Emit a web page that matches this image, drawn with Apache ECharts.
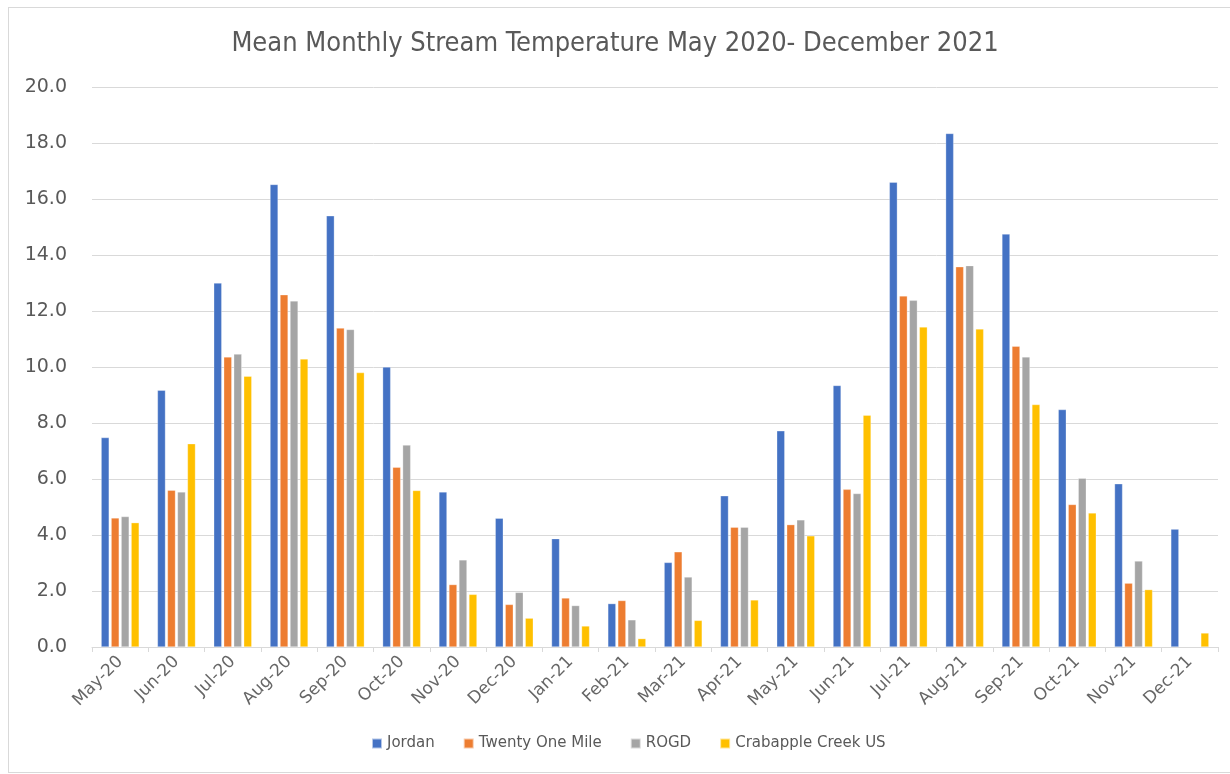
<!DOCTYPE html>
<html>
<head>
<meta charset="utf-8">
<script src="https://cdn.jsdelivr.net/npm/echarts@6/dist/echarts.min.js"></script>
<style>
  html, body { margin: 0; padding: 0; background: #ffffff; }
  #frame { position: absolute; left: 8px; top: 7px; width: 1240px; height: 764px;
           border-left: 1px solid #d9d9d9; border-top: 1px solid #d9d9d9; border-bottom: 1px solid #d9d9d9; }
  #chart { position: absolute; left: 0; top: 0; width: 1230px; height: 774px; }
</style>
</head>
<body>
<div id="frame"></div>
<div id="chart"></div>
<script>
// Monthly categories
const months = ['May-20','Jun-20','Jul-20','Aug-20','Sep-20','Oct-20','Nov-20','Dec-20','Jan-21','Feb-21',
                'Mar-21','Apr-21','May-21','Jun-21','Jul-21','Aug-21','Sep-21','Oct-21','Nov-21','Dec-21'];

// Mean monthly stream temperature (°C) per site
const jordan      = [7.48, 9.17, 13.0, 16.52, 15.40, 10.0, 5.54, 4.60, 3.87, 1.55, 3.02, 5.40, 7.72, 9.34, 16.60, 18.34, 14.75, 8.48, 5.83, 4.21];
const twentyOne   = [4.61, 5.60, 10.36, 12.58, 11.39, 6.42, 2.23, 1.52, 1.75, 1.66, 3.40, 4.28, 4.37, 5.63, 12.54, 13.58, 10.74, 5.09, 2.28, null];
const rogd        = [4.66, 5.54, 10.46, 12.36, 11.34, 7.21, 3.11, 1.95, 1.48, 0.97, 2.50, 4.28, 4.54, 5.48, 12.38, 13.62, 10.36, 6.03, 3.07, null];
const crabapple   = [4.44, 7.26, 9.67, 10.29, 9.80, 5.59, 1.88, 1.03, 0.75, 0.30, 0.95, 1.68, 3.97, 8.28, 11.43, 11.36, 8.66, 4.79, 2.05, 0.50];

const seriesNames = ['Jordan', 'Twenty One Mile', 'ROGD', 'Crabapple Creek US'];
const seriesColors = ['#4472C4', '#ED7D31', '#A5A5A5', '#FFC000'];
const seriesData = [jordan, twentyOne, rogd, crabapple];

const yTicks = { min: 0, max: 20, interval: 2 };

const chart = echarts.init(document.getElementById('chart'), null, { renderer: 'canvas' });

chart.setOption({
  backgroundColor: 'transparent',
  animation: false,
  title: {
    text: 'Mean Monthly Stream Temperature May 2020- December 2021',
    left: 'center',
    top: 25,
    textStyle: { fontFamily: '"DejaVu Sans Condensed", "Liberation Sans", sans-serif', fontSize: 27, fontWeight: 'normal', color: '#595959' }
  },
  legend: {
    bottom: 18,
    left: 366,
    itemWidth: 10,
    itemHeight: 10,
    itemGap: 28,
    icon: 'rect',
    textStyle: { fontFamily: '"DejaVu Sans", sans-serif', fontSize: 15, color: '#595959' },
    data: seriesNames
  },
  grid: { left: 92, right: 12, top: 87, bottom: 127, containLabel: false },
  xAxis: {
    type: 'category',
    data: months,
    boundaryGap: true,
    axisLine: { lineStyle: { color: '#d9d9d9', width: 1 } },
    axisTick: { show: true, length: 5, lineStyle: { color: '#d9d9d9' } },
    axisLabel: { rotate: 45, fontFamily: '"DejaVu Sans", sans-serif', fontSize: 17, color: '#666666', margin: 12 }
  },
  yAxis: {
    type: 'value',
    min: yTicks.min,
    max: yTicks.max,
    interval: yTicks.interval,
    axisLine: { show: false },
    axisTick: { show: false },
    splitLine: { lineStyle: { color: '#d9d9d9', width: 1 } },
    axisLabel: {
      fontFamily: '"DejaVu Sans", sans-serif', fontSize: 19, color: '#595959', margin: 25,
      formatter: v => v.toFixed(1)
    }
  },
  series: seriesData.map((d, i) => ({
    name: seriesNames[i],
    type: 'bar',
    data: d,
    barWidth: 8,
    barGap: '25%',
    itemStyle: { color: seriesColors[i], borderColor: 'rgba(255,255,255,0.6)', borderWidth: 0.5 }
  }))
});
</script>
</body>
</html>
